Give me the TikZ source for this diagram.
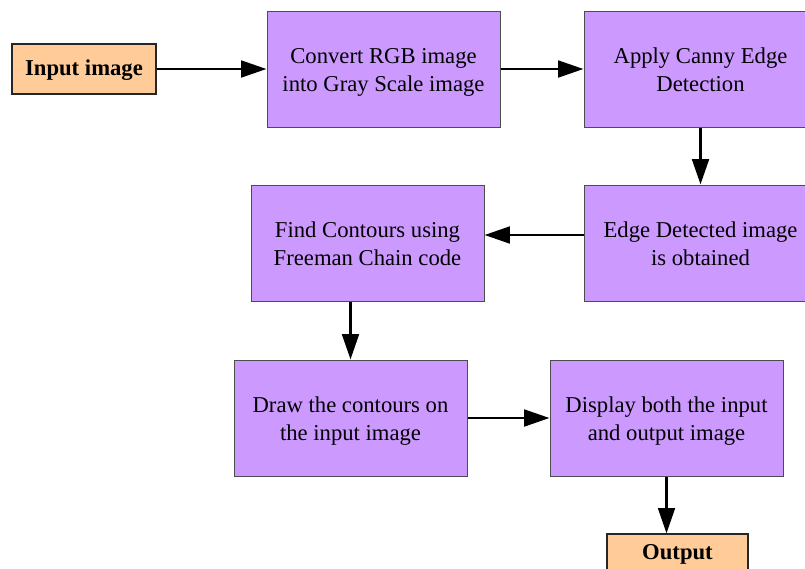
\documentclass[tikz,border=0pt]{standalone}
\usepackage{fontspec}
\setmainfont{Liberation Serif}
\usepackage{xcolor}
\usetikzlibrary{arrows.meta}

\definecolor{stepfill}{HTML}{CC99FF}
\definecolor{endfill}{HTML}{FFCC99}

\tikzset{
  stage/.style={draw=black!70, line width=0.75pt, fill=stepfill, align=center,
    minimum width=174.75pt, minimum height=87pt, inner sep=0pt,
    text height=37pt, text depth=4pt,
    font=\fontsize{17}{21}\selectfont},
  terminal/.style={draw=black!85, line width=0.9pt, fill=endfill, align=center,
    minimum height=37.5pt, inner sep=0pt, text height=14pt, text depth=3.7pt,
    font=\fontsize{17}{21}\selectfont\bfseries},
  flow/.style={line width=2.1pt, -{Triangle[length=19pt,width=12.5pt]}}
}

\begin{document}
\begin{tikzpicture}[x=0.75pt, y=-0.75pt]
\clip (0,0) rectangle (805,568);
\useasboundingbox (0,0) rectangle (805,568);

\node (input) at (84,69) [terminal, minimum width=108pt] {Input image};
\node (gray) at (383.5,69) [stage] {Convert RGB image\\into Gray Scale image};
\node (canny) at (700.5,69) [stage] {Apply Canny Edge\\Detection};
\node (edges) at (700.5,243) [stage] {Edge Detected image\\is obtained};
\node (contours) at (367.5,243) [stage] {Find Contours using\\Freeman Chain code};
\node (drawc) at (350.5,418) [stage] {Draw the contours on\\the input image};
\node (display) at (666.5,418) [stage] {Display both the input\\and output image};
\node (output) at (677.5,553) [terminal, minimum width=105.75pt, minimum height=28.5pt] {Output};

\coordinate (edgeout) at (584,235);

\draw [flow] (input) -- (gray);
\draw [flow] (gray) -- (canny);
\draw [flow] (canny) -- (edges);
\draw [flow] (edgeout) -- (edgeout -| contours.east);
\draw [flow] (contours.south -| drawc.north) -- (drawc.north);
\draw [flow] (drawc) -- (display);
\draw [flow] (display.south) -- (display.south |- output.north);

\end{tikzpicture}
\end{document}
